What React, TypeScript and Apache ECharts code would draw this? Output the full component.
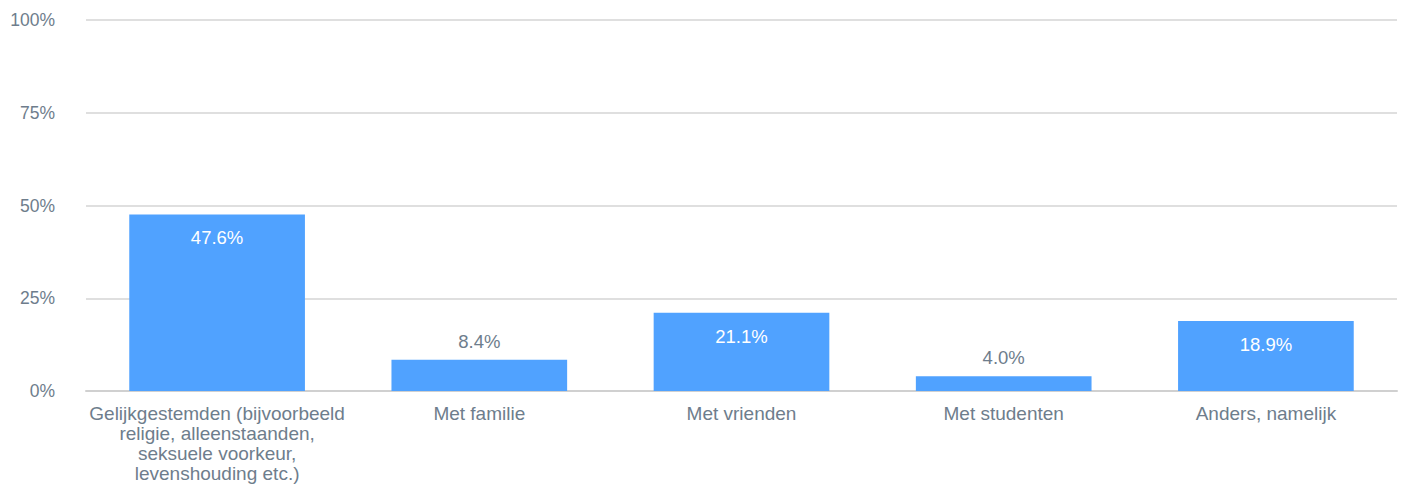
import React, { useEffect, useRef } from "react";
import * as echarts from "echarts";

const categories = [
  "Gelijkgestemden (bijvoorbeeld\nreligie, alleenstaanden,\nseksuele voorkeur,\nlevenshouding etc.)",
  "Met familie",
  "Met vrienden",
  "Met studenten",
  "Anders, namelijk",
];
const values = [47.6, 8.4, 21.1, 4.0, 18.9];
const yTicks = [0, 25, 50, 75, 100];

const TEXT = "#6e7d8c";
const BAR = "#50a2ff";
const FONT = "Liberation Sans, Arial, sans-serif";

export default function App() {
  const ref = useRef<HTMLDivElement>(null);
  useEffect(() => {
    if (!ref.current) return;
    const chart = echarts.init(ref.current, undefined, { renderer: "svg" });
    chart.setOption({
      animation: false,
      grid: { left: 86, right: 10, top: 20, bottom: 97, containLabel: false, outerBoundsMode: "none" },
      xAxis: {
        type: "category",
        data: categories,
        axisTick: { show: false },
        axisLine: { lineStyle: { color: "#d0d0d0", width: 2 } },
        axisLabel: {
          color: TEXT,
          fontSize: 19,
          fontFamily: FONT,
          lineHeight: 20.2,
          margin: 12,
          interval: 0,
        },
      },
      yAxis: {
        type: "value",
        min: yTicks[0],
        max: yTicks[yTicks.length - 1],
        interval: 25,
        axisLine: { show: false },
        axisTick: { show: false },
        splitLine: { lineStyle: { color: "#d4d4d4", width: 1.5 } },
        axisLabel: {
          color: TEXT,
          fontSize: 17.5,
          fontFamily: FONT,
          margin: 31,
          formatter: (v: number) => v + "%",
        },
      },
      series: [
        {
          type: "bar",
          barWidth: "67%",
          itemStyle: { color: BAR },
          data: values.map((v) => {
            const inside = v > 10;
            return {
              value: v,
              label: {
                show: true,
                position: inside ? "insideTop" : "top",
                distance: inside ? 14 : 9,
                color: inside ? "#ffffff" : TEXT,
                fontSize: 18.5,
                fontFamily: FONT,
                formatter: (p: any) => Number(p.value).toFixed(1) + "%",
              },
            };
          }),
        },
      ],
    });
    return () => chart.dispose();
  }, []);
  return <div ref={ref} style={{ width: 1407, height: 488, position: "absolute", left: 0, top: 0 }} />;
}
